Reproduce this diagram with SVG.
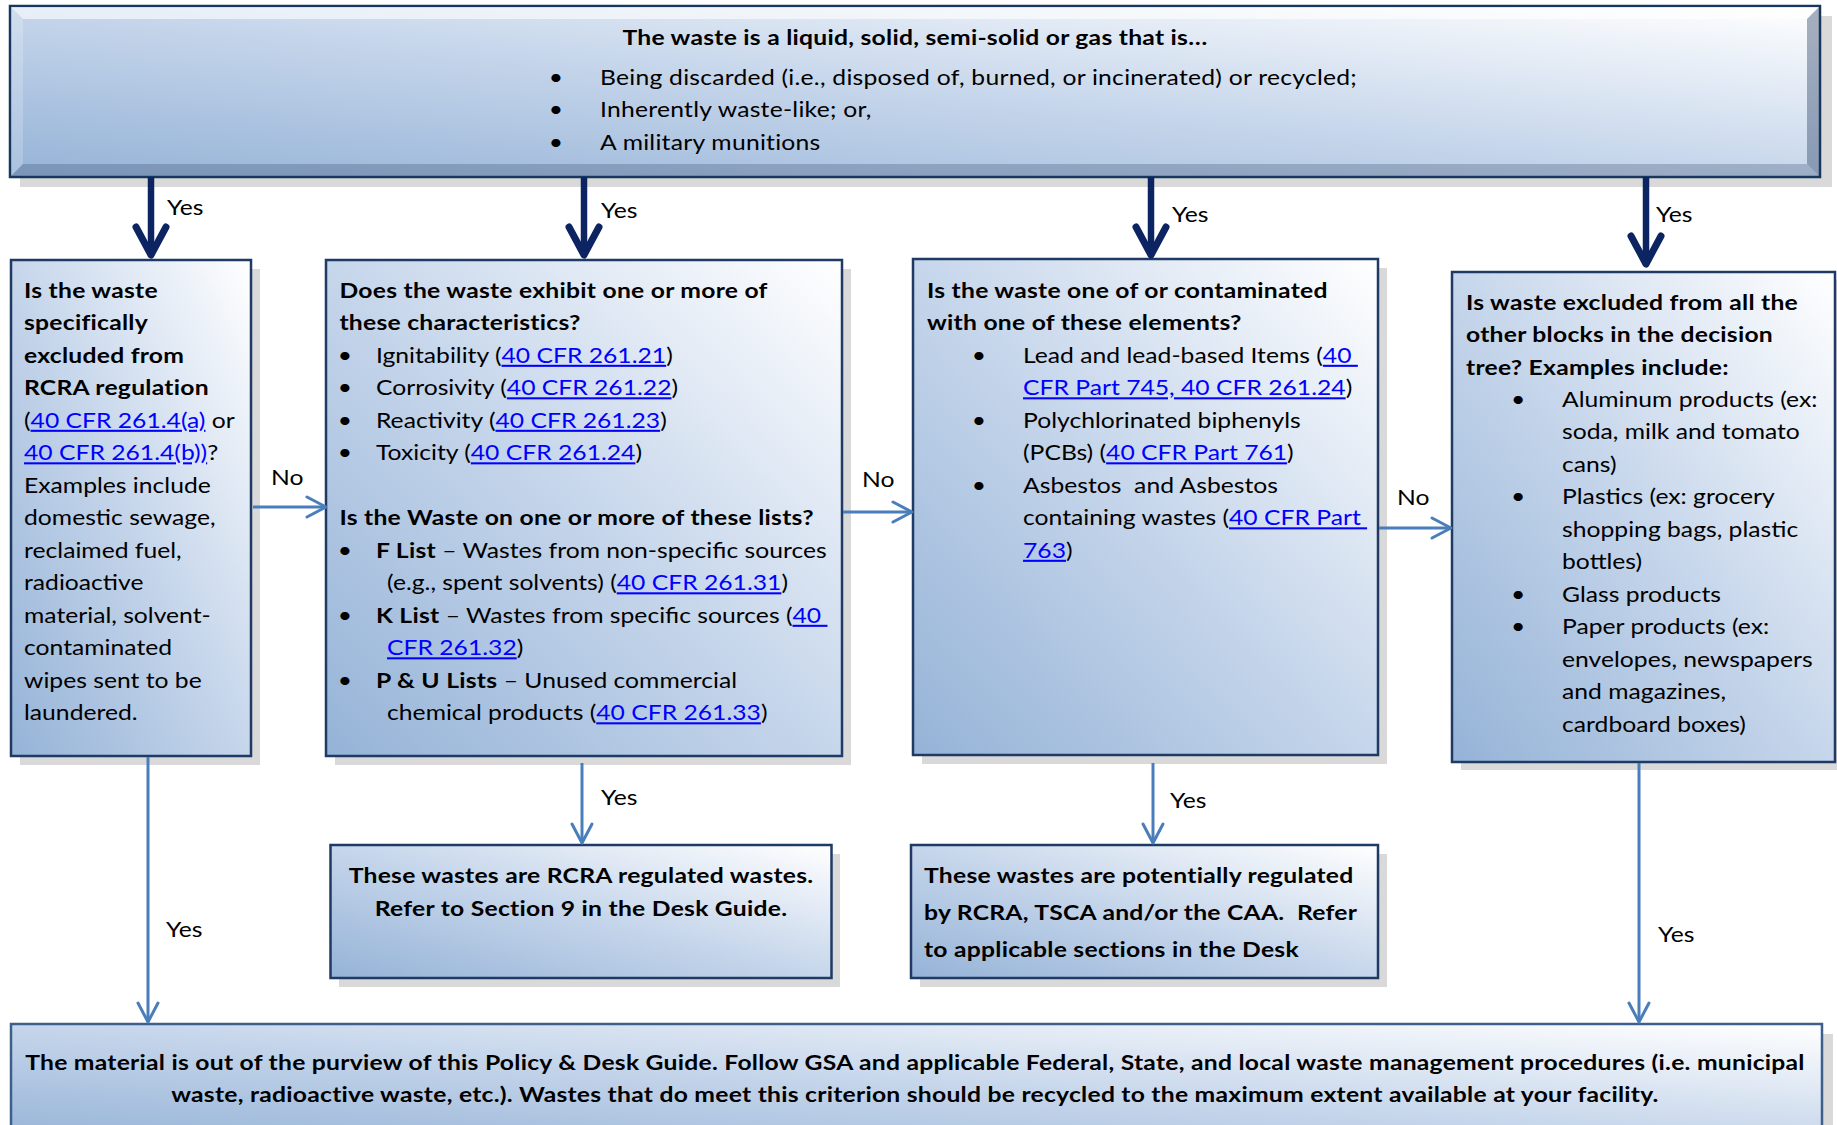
<svg xmlns="http://www.w3.org/2000/svg" width="1837" height="1125" viewBox="0 0 1837 1125">
<style>
.t{font-family:Lato,"Liberation Sans",sans-serif;font-size:20.5px;fill:#000}
.b{font-weight:bold;letter-spacing:0.2px}
.c{text-anchor:middle}
.sp{letter-spacing:0.2px}
.lnk{fill:#0000ff;text-decoration:underline}
.box{fill:url(#gBox);stroke:#1f3a64;stroke-width:2.5}
.sh{fill:#d9d9d9}
.navy{fill:none;stroke:#0c2461;stroke-width:6.5;marker-end:url(#navyHead)}
.thin{fill:none;stroke:#4a7ebb;stroke-width:3;marker-end:url(#blueHead)}
</style>
<defs>
<linearGradient id="gBox" x1="0" y1="1" x2="1" y2="0">
<stop offset="0" stop-color="#95b3d7"/>
<stop offset="0.5" stop-color="#c6d6eb"/>
<stop offset="1" stop-color="#ffffff"/>
</linearGradient>
<marker id="navyHead" markerUnits="userSpaceOnUse" orient="auto" overflow="visible" refX="0" refY="0" markerWidth="1" markerHeight="1">
<path d="M-28,-15 L0,0 L-28,15" fill="none" stroke="#0c2461" stroke-width="7" stroke-linecap="round" stroke-linejoin="round"/>
</marker>
<marker id="blueHead" markerUnits="userSpaceOnUse" orient="auto" overflow="visible" refX="0" refY="0" markerWidth="1" markerHeight="1">
<path d="M-19,-10 L0,0 L-19,10" fill="none" stroke="#4a7ebb" stroke-width="3" stroke-linecap="round" stroke-linejoin="round"/>
</marker>
</defs>
<rect width="1837" height="1125" fill="#ffffff"/>

<g id="top">
<rect class="sh" x="20" y="16" width="1812" height="171"/>
<rect x="10" y="6" width="1810" height="171" fill="url(#gBox)" stroke="#17375e" stroke-width="2.5"/>
<polygon points="11,7 1819,7 1807,19 23,19" fill="#ffffff" opacity="0.6"/>
<polygon points="11,7 23,19 23,164 11,176" fill="#ffffff" opacity="0.2"/>
<polygon points="11,176 23,164 1807,164 1819,176" fill="#3b4f72" opacity="0.3"/>
<polygon points="1819,7 1819,176 1807,164 1807,19" fill="#3b4f72" opacity="0.45"/>
<g transform="scale(1.205,1)">
<text class="t b c" x="759.3" y="45">The waste is a liquid, solid, semi-solid or gas that is…</text>
<text class="t c" x="461.4" y="85">•</text>
<text class="t sp" x="497.9" y="85">Being discarded (i.e., disposed of, burned, or incinerated) or recycled;</text>
<text class="t c" x="461.4" y="117">•</text>
<text class="t sp" x="497.9" y="117">Inherently waste-like; or,</text>
<text class="t c" x="461.4" y="150">•</text>
<text class="t sp" x="497.9" y="150">A military munitions</text>
</g>
</g>

<g id="excluded">
<rect class="sh" x="20" y="269" width="240" height="496"/>
<rect class="box" x="11" y="260" width="240" height="496"/>
<g transform="scale(1.205,1)">
<text class="t b" x="19.92" y="298">Is the waste</text>
<text class="t b" x="19.92" y="330.5">specifically</text>
<text class="t b" x="19.92" y="363">excluded from</text>
<text class="t b" x="19.92" y="395.5">RCRA regulation</text>
<text class="t" x="19.92" y="428">(<tspan class="lnk">40 CFR 261.4(a)</tspan> or</text>
<text class="t" x="19.92" y="460.5"><tspan class="lnk">40 CFR 261.4(b))</tspan>?</text>
<text class="t" x="19.92" y="493">Examples include</text>
<text class="t" x="19.92" y="525.5">domestic sewage,</text>
<text class="t" x="19.92" y="558">reclaimed fuel,</text>
<text class="t" x="19.92" y="590.5">radioactive</text>
<text class="t" x="19.92" y="623">material, solvent-</text>
<text class="t" x="19.92" y="655.5">contaminated</text>
<text class="t" x="19.92" y="688">wipes sent to be</text>
<text class="t" x="19.92" y="720.5">laundered.</text>
</g>
</g>

<g id="characteristics">
<rect class="sh" x="335" y="269" width="516" height="496"/>
<rect class="box" x="326" y="260" width="516" height="496"/>
<g transform="scale(1.205,1)">
<text class="t b" x="281.7" y="298">Does the waste exhibit one or more of</text>
<text class="t b" x="281.7" y="330.5">these characteristics?</text>
<text class="t c" x="286.3" y="363">•</text>
<text class="t" x="312" y="363">Ignitability (<tspan class="lnk">40 CFR 261.21</tspan>)</text>
<text class="t c" x="286.3" y="395.5">•</text>
<text class="t" x="312" y="395.5">Corrosivity (<tspan class="lnk">40 CFR 261.22</tspan>)</text>
<text class="t c" x="286.3" y="428">•</text>
<text class="t" x="312" y="428">Reactivity (<tspan class="lnk">40 CFR 261.23</tspan>)</text>
<text class="t c" x="286.3" y="460.5">•</text>
<text class="t" x="312" y="460.5">Toxicity (<tspan class="lnk">40 CFR 261.24</tspan>)</text>
<text class="t b" x="281.7" y="525.5">Is the Waste on one or more of these lists?</text>
<text class="t c" x="286.3" y="558">•</text>
<text class="t" x="312" y="558"><tspan class="b">F List</tspan> – Wastes from non-specific sources</text>
<text class="t" x="321.2" y="590.5">(e.g., spent solvents) (<tspan class="lnk">40 CFR 261.31</tspan>)</text>
<text class="t c" x="286.3" y="623">•</text>
<text class="t" x="312" y="623" xml:space="preserve"><tspan class="b">K List</tspan> – Wastes from specific sources (<tspan class="lnk">40 </tspan></text>
<text class="t" x="321.2" y="655.5"><tspan class="lnk">CFR 261.32</tspan>)</text>
<text class="t c" x="286.3" y="688">•</text>
<text class="t" x="312" y="688"><tspan class="b">P &amp; U Lists</tspan> – Unused commercial</text>
<text class="t" x="321.2" y="720.5">chemical products (<tspan class="lnk">40 CFR 261.33</tspan>)</text>
</g>
</g>

<g id="elements">
<rect class="sh" x="922" y="268" width="465" height="496"/>
<rect class="box" x="913" y="259" width="465" height="496"/>
<g transform="scale(1.205,1)">
<text class="t b" x="769.3" y="298">Is the waste one of or contaminated</text>
<text class="t b" x="769.3" y="330.5">with one of these elements?</text>
<text class="t c" x="812.4" y="363">•</text>
<text class="t" x="849" y="363" xml:space="preserve">Lead and lead-based Items (<tspan class="lnk">40 </tspan></text>
<text class="t" x="849" y="395.5"><tspan class="lnk">CFR Part 745, 40 CFR 261.24</tspan>)</text>
<text class="t c" x="812.4" y="428">•</text>
<text class="t" x="849" y="428">Polychlorinated biphenyls</text>
<text class="t" x="849" y="460.5">(PCBs) (<tspan class="lnk">40 CFR Part 761</tspan>)</text>
<text class="t c" x="812.4" y="493">•</text>
<text class="t" x="849" y="493" xml:space="preserve">Asbestos  and Asbestos</text>
<text class="t" x="849" y="525.5" xml:space="preserve">containing wastes (<tspan class="lnk">40 CFR Part </tspan></text>
<text class="t" x="849" y="558"><tspan class="lnk">763</tspan>)</text>
</g>
</g>

<g id="excludedAll">
<rect class="sh" x="1461" y="280" width="383" height="490"/>
<rect class="box" x="1452" y="272" width="383" height="490"/>
<g transform="scale(1.205,1)">
<text class="t b" x="1216.6" y="310">Is waste excluded from all the</text>
<text class="t b" x="1216.6" y="342.5">other blocks in the decision</text>
<text class="t b" x="1216.6" y="375">tree? Examples include:</text>
<text class="t c" x="1259.8" y="407">•</text>
<text class="t" x="1296.3" y="407">Aluminum products (ex:</text>
<text class="t" x="1296.3" y="439.5">soda, milk and tomato</text>
<text class="t" x="1296.3" y="472">cans)</text>
<text class="t c" x="1259.8" y="504.5">•</text>
<text class="t" x="1296.3" y="504.5">Plastics (ex: grocery</text>
<text class="t" x="1296.3" y="537">shopping bags, plastic</text>
<text class="t" x="1296.3" y="569.5">bottles)</text>
<text class="t c" x="1259.8" y="602">•</text>
<text class="t" x="1296.3" y="602">Glass products</text>
<text class="t c" x="1259.8" y="634.5">•</text>
<text class="t" x="1296.3" y="634.5">Paper products (ex:</text>
<text class="t" x="1296.3" y="667">envelopes, newspapers</text>
<text class="t" x="1296.3" y="699.5">and magazines,</text>
<text class="t" x="1296.3" y="732">cardboard boxes)</text>
</g>
</g>

<g id="rcra">
<rect class="sh" x="339" y="854" width="501" height="133"/>
<rect class="box" x="330.5" y="845" width="501" height="133"/>
<g transform="scale(1.205,1)">
<text class="t b c" x="482.2" y="883">These wastes are RCRA regulated wastes.</text>
<text class="t b c" x="482.2" y="916">Refer to Section 9 in the Desk Guide.</text>
</g>
</g>

<g id="potential">
<rect class="sh" x="920" y="854" width="467" height="133"/>
<rect class="box" x="911" y="845" width="467" height="133"/>
<g transform="scale(1.205,1)">
<text class="t b" x="766.8" y="883">These wastes are potentially regulated</text>
<text class="t b" x="766.8" y="920" xml:space="preserve">by RCRA, TSCA and/or the CAA.  Refer</text>
<text class="t b" x="766.8" y="957">to applicable sections in the Desk</text>
</g>
</g>

<g id="outOfPurview">
<rect class="sh" x="21" y="1034" width="1812" height="120"/>
<rect x="11" y="1024" width="1811" height="120" fill="url(#gBox)" stroke="#3c5f8c" stroke-width="2.5"/>
<g transform="scale(1.205,1)">
<text class="t b c" x="759.3" y="1070">The material is out of the purview of this Policy &amp; Desk Guide. Follow GSA and applicable Federal, State, and local waste management procedures (i.e. municipal</text>
<text class="t b c" x="759.3" y="1102">waste, radioactive waste, etc.). Wastes that do meet this criterion should be recycled to the maximum extent available at your facility.</text>
</g>
</g>

<g id="connectors">
<path class="navy" d="M151,177 V255"/>
<path class="navy" d="M584,177 V255"/>
<path class="navy" d="M1151,177 V255"/>
<path class="navy" d="M1646,177 V264"/>
<path class="thin" d="M148,757 V1022"/>
<path class="thin" d="M582,763 V843"/>
<path class="thin" d="M1153,763 V843"/>
<path class="thin" d="M1639,763 V1022"/>
<path class="thin" d="M253,507 H326"/>
<path class="thin" d="M843,512 H912"/>
<path class="thin" d="M1379,528 H1451"/>
<g transform="scale(1.205,1)">
<text class="t" x="138.6" y="215">Yes</text>
<text class="t" x="498.8" y="218">Yes</text>
<text class="t" x="972.6" y="222">Yes</text>
<text class="t" x="1374.3" y="222">Yes</text>
<text class="t" x="224.9" y="485">No</text>
<text class="t" x="715.4" y="487">No</text>
<text class="t" x="1159.3" y="505">No</text>
<text class="t" x="137.8" y="937">Yes</text>
<text class="t" x="498.8" y="805">Yes</text>
<text class="t" x="971" y="808">Yes</text>
<text class="t" x="1375.9" y="942">Yes</text>
</g>
</g>
</svg>
